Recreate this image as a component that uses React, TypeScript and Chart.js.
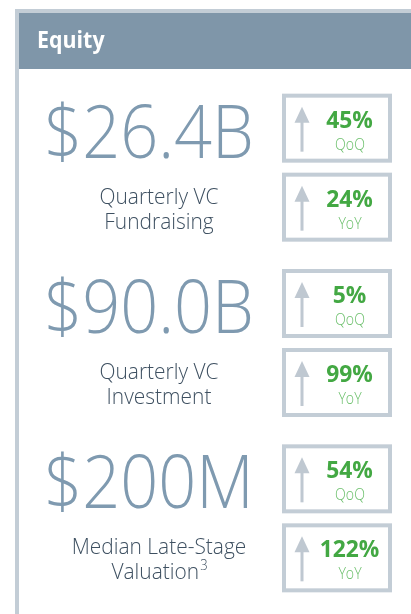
import React, { useEffect, useRef } from "react";
import { Chart, registerables } from "chart.js";

Chart.register(...registerables);

const panelTitle = "Equity";
const headlineValues = ["$26.4B", "$90.0B", "$200M"];
const metricLines = [
  ["Quarterly VC", "Fundraising"],
  ["Quarterly VC", "Investment"],
  ["Median Late-Stage", "Valuation"],
];
const metricFootnotes = ["", "", "3"];
const qoqChange = [45, 5, 54];
const yoyChange = [24, 99, 122];
const changeLabels = ["QoQ", "YoY"];

const FONT = "'Open Sans', 'Noto Sans', sans-serif";
const C_HEADER = "#7f96a9";
const C_FRAME = "#c3cdd6";
const C_ARROW = "#bfc8d1";
const C_BIG = "#7f9ab0";
const C_LABEL = "#3e5061";
const C_GREEN = "#43a843";
const C_GREEN_LIGHT = "#6abf6a";

function drawText(
  ctx: CanvasRenderingContext2D,
  text: string,
  cx: number,
  y: number,
  font: string,
  color: string,
  sx: number,
  align: CanvasTextAlign = "center"
) {
  ctx.save();
  ctx.translate(cx, y);
  ctx.scale(sx, 1);
  ctx.font = font;
  ctx.fillStyle = color;
  ctx.textAlign = align;
  ctx.textBaseline = "alphabetic";
  ctx.fillText(text, 0, 0);
  ctx.restore();
}

const LABEL_FONT = `300 22.5px ${FONT}`;
const LABEL_SX = 0.93;

const panelPlugin = {
  id: "panel",
  beforeDraw(chart: any) {
    const ctx: CanvasRenderingContext2D = chart.ctx;
    const W = chart.width;
    const H = chart.height;
    ctx.save();
    ctx.fillStyle = "#ffffff";
    ctx.fillRect(0, 0, W, H);
    // frame
    ctx.fillStyle = C_FRAME;
    ctx.fillRect(15, 9, W - 15, 4);
    ctx.fillRect(15, 9, 4, H - 9);
    // header
    ctx.fillStyle = C_HEADER;
    ctx.fillRect(19, 13, W - 19, 56);
    drawText(ctx, panelTitle, 37, 48, `bold 23px ${FONT}`, "#ffffff", 0.93, "left");

    const y = chart.scales.y;
    headlineValues.forEach((val, i) => {
      const cy = y.getPixelForValue(i);
      // headline number
      drawText(ctx, val, 149, cy - 10, `300 74px ${FONT}`, C_BIG, 0.9);
      // description
      const [l1, l2] = metricLines[i];
      drawText(ctx, l1, 159, cy + 36, LABEL_FONT, C_LABEL, LABEL_SX);
      const fn = metricFootnotes[i];
      if (fn) {
        ctx.save();
        ctx.font = LABEL_FONT;
        const w2 = ctx.measureText(l2).width * LABEL_SX;
        ctx.font = `300 14px ${FONT}`;
        const wf = ctx.measureText(fn).width * LABEL_SX;
        ctx.restore();
        const left = 159 - (w2 + wf) / 2;
        drawText(ctx, l2, left, cy + 61, LABEL_FONT, C_LABEL, LABEL_SX, "left");
        drawText(ctx, fn, left + w2 + 1, cy + 52, `300 14px ${FONT}`, C_LABEL, LABEL_SX, "left");
      } else {
        drawText(ctx, l2, 159, cy + 61, LABEL_FONT, C_LABEL, LABEL_SX);
      }
      // change boxes
      const changes = [qoqChange[i], yoyChange[i]];
      changes.forEach((pct, k) => {
        const top = k === 0 ? cy - 74 : cy + 5;
        const left = 282;
        const bw = 110;
        const bh = 69;
        ctx.strokeStyle = C_FRAME;
        ctx.lineWidth = 4;
        ctx.strokeRect(left + 2, top + 2, bw - 4, bh - 4);
        // arrow
        const ax = 302;
        ctx.fillStyle = C_ARROW;
        ctx.fillRect(ax - 1.5, top + 27, 3, 31);
        ctx.beginPath();
        ctx.moveTo(ax, top + 13);
        ctx.lineTo(ax + 7.5, top + 29);
        ctx.lineTo(ax - 7.5, top + 29);
        ctx.closePath();
        ctx.fill();
        drawText(ctx, `${pct}%`, 349.5, top + 34, `bold 24px ${FONT}`, C_GREEN, 0.95);
        drawText(ctx, changeLabels[k], 350, top + 56, `300 16px ${FONT}`, C_GREEN_LIGHT, 0.88);
      });
    });
    ctx.restore();
  },
};

export default function App() {
  const ref = useRef<HTMLCanvasElement>(null);
  useEffect(() => {
    document.body.style.margin = "0";
    const chart = new Chart(ref.current!, {
      type: "bar",
      data: {
        labels: metricLines.map((l) => l.join(" ")),
        datasets: [],
      },
      options: {
        animation: false,
        responsive: false,
        layout: { padding: { top: 80, bottom: 8, left: 0, right: 0 } },
        plugins: { legend: { display: false }, tooltip: { enabled: false } },
        scales: {
          x: { type: "linear", display: false, min: 0, max: 1 },
          y: { type: "category", display: false, offset: true },
        },
      },
      plugins: [panelPlugin],
    });
    return () => chart.destroy();
  }, []);
  return <canvas ref={ref} width={411} height={614} style={{ display: "block" }} />;
}
